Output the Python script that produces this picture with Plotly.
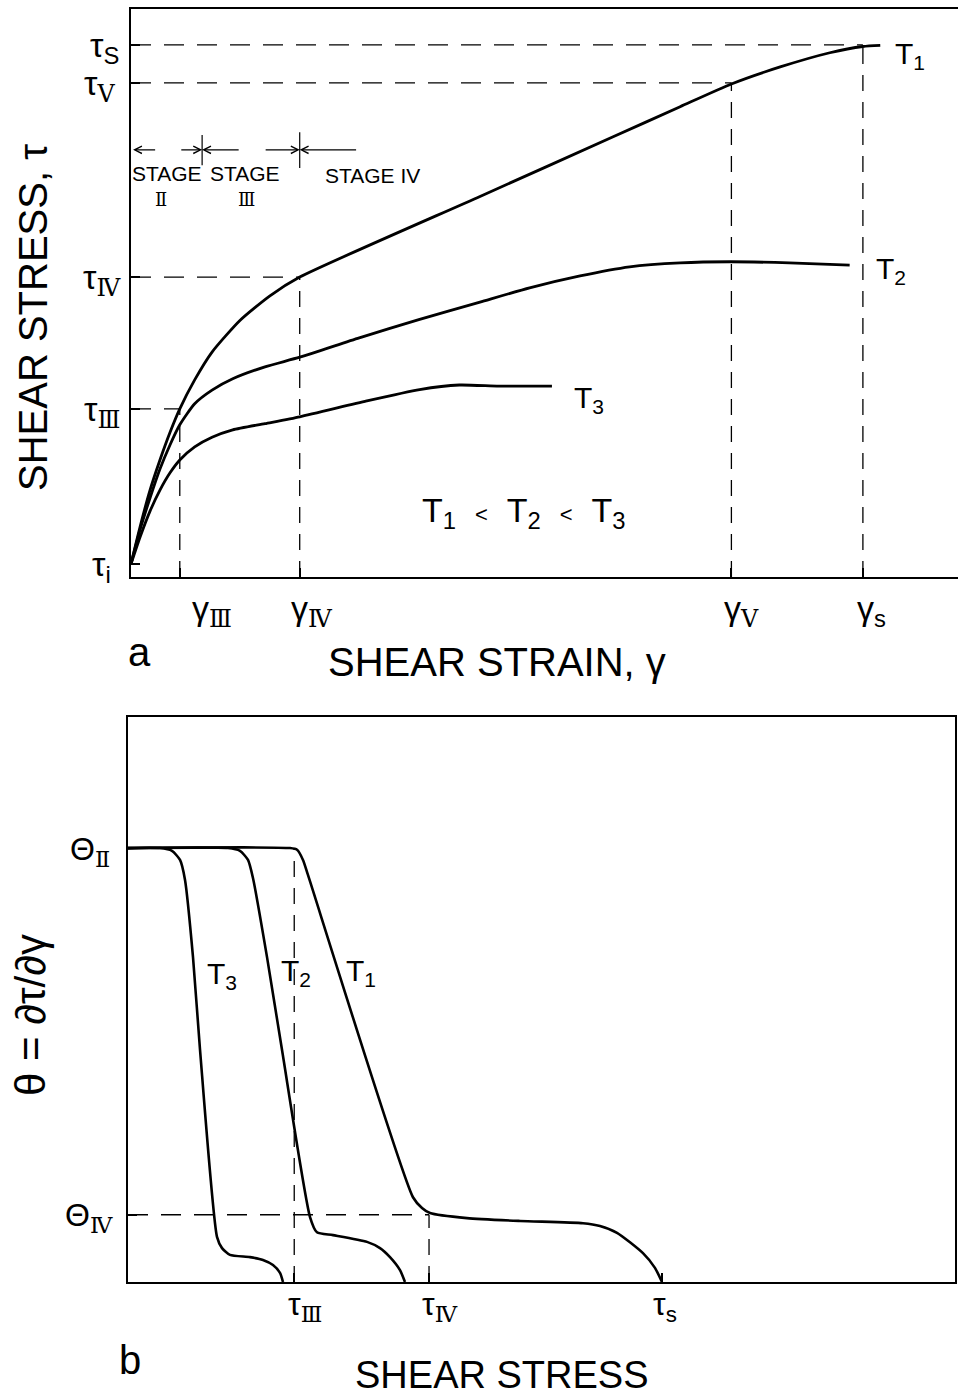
import plotly.graph_objects as go

W, H = 958, 1399
FONT = "Liberation Sans, DejaVu Sans, sans-serif"
RN = "<span style=\"font-family:'DejaVu Serif'\">{}</span>"

# ---------------- panel a : shear stress vs shear strain (arbitrary units 0..100)
gamma_ticks = [5.9, 20.4, 72.6, 88.5]
gamma_labels = ["γ<sub>" + RN.format("Ⅲ") + "</sub>", "γ<sub>" + RN.format("Ⅳ") + "</sub>",
                "γ<sub>" + RN.format("Ⅴ") + "</sub>", "γ<sub>s</sub>"]
tau_ticks = [2.3, 29.6, 52.8, 87.0, 93.7]
tau_labels = ["τ<sub>i</sub>", "τ<sub>" + RN.format("Ⅲ") + "</sub>", "τ<sub>" + RN.format("Ⅳ") + "</sub>",
              "τ<sub>" + RN.format("Ⅴ") + "</sub>", "τ<sub>S</sub>"]

T1_gamma = [0, 1.09, 2.3, 3.5, 4.7, 5.9, 7.7, 9.8, 13.2, 16.8, 20.4, 42.2, 58.3, 66.4, 72.6, 78.5, 84.5, 88.5, 90.6]
T1_tau = [2.3, 8.8, 15.3, 20.6, 25.4, 29.6, 34.7, 39.6, 45.2, 49.5, 52.8, 67.0, 77.5, 82.8, 86.8, 89.8, 92.3, 93.4, 93.6]
T2_gamma = [0, 1.09, 2.3, 3.5, 4.7, 5.9, 7.7, 9.8, 12.3, 16.2, 20.4, 27.6, 34.8, 42.2, 48.2, 54.3, 60.3, 66.4, 72.4, 79.6, 86.9]
T2_tau = [2.3, 8.3, 13.9, 19.0, 23.2, 26.8, 30.5, 32.9, 34.9, 37.0, 38.7, 42.1, 45.3, 48.4, 50.9, 53.0, 54.6, 55.3, 55.5, 55.3, 54.9]
T3_gamma = [0, 1.09, 2.3, 3.5, 4.7, 5.9, 7.7, 9.8, 12.3, 16.2, 20.4, 28.5, 34.9, 39.7, 44.5, 50.9]
T3_tau = [2.3, 7.0, 11.6, 15.3, 18.3, 20.6, 22.9, 24.6, 25.9, 27.0, 28.2, 31.0, 33.0, 33.8, 33.6, 33.6]

stage_bounds = [8.6, 20.4]

# ---------------- panel b : work hardening rate vs shear stress (arbitrary units 0..100)
theta_ticks = [11.9, 76.8]
theta_labels = ["Θ<sub>" + RN.format("Ⅳ") + "</sub>", "Θ<sub>" + RN.format("Ⅱ") + "</sub>"]
taub_ticks = [20.1, 36.4, 64.6]
taub_labels = ["τ<sub>" + RN.format("Ⅲ") + "</sub>", "τ<sub>" + RN.format("Ⅳ") + "</sub>", "τ<sub>s</sub>"]

B3_tau = [0, 3.87, 5.32, 6.29, 6.89, 7.86, 8.71, 10.76, 11.37, 12.33, 14.75, 16.32, 17.53, 18.38, 18.74]
B3_theta = [76.8, 76.8, 76.3, 74.7, 71.2, 57.5, 41.1, 8.0, 6.0, 4.8, 4.4, 3.9, 3.0, 1.6, 0]
B2_tau = [0, 12.09, 13.54, 14.51, 15.11, 16.81, 18.62, 22.01, 22.85, 24.79, 28.90, 30.47, 31.68, 32.89, 33.49]
B2_theta = [76.8, 76.8, 76.3, 74.7, 71.5, 57.5, 41.1, 11.5, 8.8, 8.3, 7.1, 6.0, 4.4, 2.1, 0]
B1_tau = [0, 19.59, 20.44, 21.16, 21.77, 34.46, 35.55, 36.52, 40.99, 47.40, 55.02, 57.07, 59.13, 62.27, 63.72, 64.57]
B1_theta = [76.8, 76.8, 76.5, 74.7, 72.0, 15.0, 13.1, 12.2, 11.3, 10.8, 10.4, 9.9, 8.7, 5.1, 2.5, 0]

fig = go.Figure()


def add_line(xs, ys, xa, ya, width, dash=None, spline=False):
    ln = dict(color="black", width=width)
    if dash:
        ln["dash"] = dash
    if spline:
        ln["shape"] = "spline"
        ln["smoothing"] = 0.6
    fig.add_trace(go.Scatter(x=xs, y=ys, xaxis=xa, yaxis=ya, mode="lines", line=ln,
                             hoverinfo="skip", showlegend=False))


HD = "20px,13px"
VD = "16px,11px"

# panel a guides
for g, t in zip(gamma_ticks, [tau_ticks[1], tau_ticks[2], tau_ticks[3], tau_ticks[4]]):
    add_line([0, g], [t, t], "x", "y", 1.3, HD)
    add_line([g, g], [0, t], "x", "y", 1.3, VD)

# panel a curves
add_line(T1_gamma, T1_tau, "x", "y", 2.8, spline=True)
add_line(T2_gamma, T2_tau, "x", "y", 2.8, spline=True)
add_line(T3_gamma, T3_tau, "x", "y", 2.8, spline=True)

# stage markers
stage_y = 75.2
add_line([stage_bounds[0]] * 2, [72.5, 77.8], "x", "y", 1.2)
add_line([stage_bounds[1]] * 2, [72.0, 78.3], "x", "y", 1.2)
arrows = [(0.25, 3.1), (stage_bounds[0], 5.9), (stage_bounds[0], 13.2),
          (stage_bounds[1], 16.1), (stage_bounds[1], 27.4)]
annotations = []
for head, tail in arrows:
    annotations.append(dict(x=head, y=stage_y, ax=tail, ay=stage_y, xref="x", yref="y",
                            axref="x", ayref="y", showarrow=True, arrowhead=5,
                            arrowsize=1.3, arrowwidth=1.1, arrowcolor="black", text=""))

# panel b guides
add_line([0, taub_ticks[1]], [theta_ticks[0]] * 2, "x2", "y2", 1.3, HD)
add_line([taub_ticks[1]] * 2, [0, theta_ticks[0]], "x2", "y2", 1.3, VD)
add_line([taub_ticks[0]] * 2, [0, theta_ticks[1]], "x2", "y2", 1.3, VD)

# panel b curves
add_line(B3_tau, B3_theta, "x2", "y2", 2.6, spline=True)
add_line(B2_tau, B2_theta, "x2", "y2", 2.6, spline=True)
add_line(B1_tau, B1_theta, "x2", "y2", 2.6, spline=True)


def txt(text, px, py, size, angle=0, xanchor="center", yanchor="middle"):
    annotations.append(dict(text=text, x=px / W, y=1 - py / H, xref="paper", yref="paper",
                            showarrow=False, textangle=angle, xanchor=xanchor, yanchor=yanchor,
                            font=dict(family=FONT, size=size, color="black")))


# tick labels panel a
tau_shift = [-18, -9, -8, -14, -10]
for v, lab, s in zip(tau_ticks, tau_labels, tau_shift):
    annotations.append(dict(text=lab, x=0, y=v, xref="x domain", yref="y", xanchor="right",
                            yanchor="middle", xshift=s, yshift=-3, showarrow=False,
                            font=dict(family=FONT, size=34, color="black")))
gamma_shift = [32, 12, 10, 9]
for v, lab, s in zip(gamma_ticks, gamma_labels, gamma_shift):
    annotations.append(dict(text=lab, x=v, y=0, xref="x", yref="y domain", xanchor="center",
                            yanchor="top", xshift=s, yshift=-10, showarrow=False,
                            font=dict(family=FONT, size=34, color="black")))
# tick labels panel b
theta_shift = [-13, -16]
for v, lab, s in zip(theta_ticks, theta_labels, theta_shift):
    annotations.append(dict(text=lab, x=0, y=v, xref="x2 domain", yref="y2", xanchor="right",
                            yanchor="middle", xshift=s, yshift=-3, showarrow=False,
                            font=dict(family=FONT, size=32, color="black")))
taub_shift = [11, 11, 3]
for v, lab, s in zip(taub_ticks, taub_labels, taub_shift):
    annotations.append(dict(text=lab, x=v, y=0, xref="x2", yref="y2 domain", xanchor="center",
                            yanchor="top", xshift=s, yshift=-2, showarrow=False,
                            font=dict(family=FONT, size=32, color="black")))

# curve labels
txt("T<sub>1</sub>", 910, 55, 30)
txt("T<sub>2</sub>", 891, 271, 30)
txt("T<sub>3</sub>", 589, 399, 30)
txt("T<sub>1</sub>\u00a0\u00a0<span style='font-size:22px'>&lt;</span>\u00a0\u00a0T<sub>2</sub>"
    "\u00a0\u00a0<span style='font-size:22px'>&lt;</span>\u00a0\u00a0T<sub>3</sub>", 523, 512, 34)
txt("T<sub>3</sub>", 222, 975, 30)
txt("T<sub>2</sub>", 296, 972, 30)
txt("T<sub>1</sub>", 361, 972, 30)

# stage texts
txt("STAGE", 167, 174, 21)
txt(RN.format("Ⅱ"), 161, 200, 18)
txt("STAGE", 245, 174, 21)
txt(RN.format("Ⅲ"), 246, 200, 18)
txt("STAGE IV", 372, 175, 21)

# titles
txt("SHEAR STRAIN, γ", 497, 662, 40)
txt("SHEAR STRESS, τ", 33, 318, 40, angle=-90)
txt("a", 139, 652, 40)
txt("SHEAR STRESS", 502, 1375, 38)
txt("θ = ∂τ/∂γ", 30, 1015, 42, angle=-90)
txt("b", 130, 1360, 40)

axis_common = dict(showline=True, linecolor="black", linewidth=2, showgrid=False,
                   zeroline=False, ticks="inside", ticklen=9, tickwidth=1.5, tickcolor="black",
                   showticklabels=False, range=[0, 100], fixedrange=True)

fig.update_layout(
    width=W, height=H, margin=dict(l=0, r=0, t=0, b=0),
    paper_bgcolor="white", plot_bgcolor="white", showlegend=False,
    font=dict(family=FONT, color="black"),
    xaxis=dict(axis_common, domain=[131 / W, 1.0], anchor="y", mirror=True, tickvals=gamma_ticks),
    yaxis=dict(axis_common, domain=[1 - 577 / H, 1 - 9 / H], anchor="x", tickvals=tau_ticks),
    xaxis2=dict(axis_common, domain=[128 / W, 955 / W], anchor="y2", mirror=True, tickvals=taub_ticks),
    yaxis2=dict(axis_common, domain=[1 - 1282 / H, 1 - 717 / H], anchor="x2", mirror=True,
                tickvals=theta_ticks),
    annotations=annotations,
)

fig.write_html("out.html")
